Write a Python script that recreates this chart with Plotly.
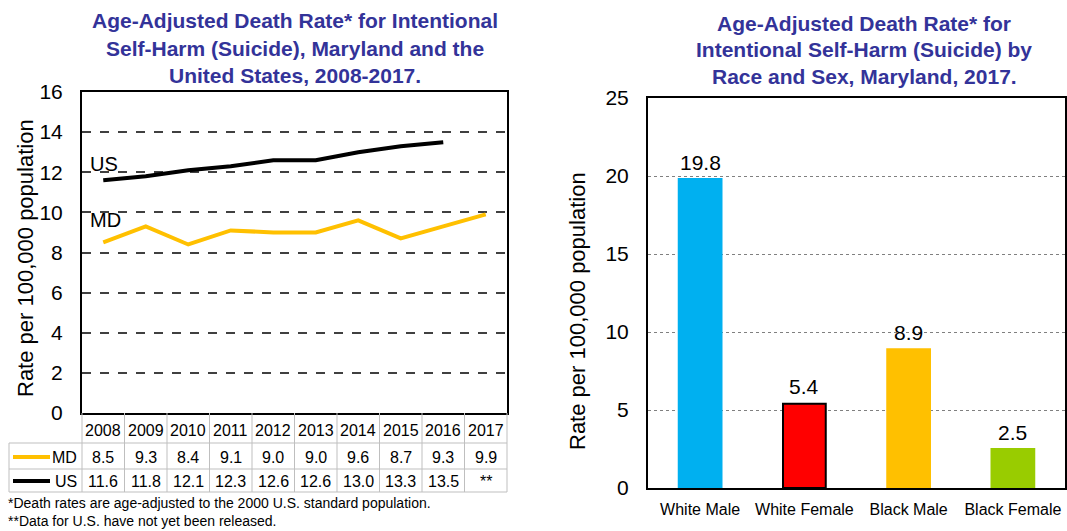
import plotly.graph_objects as go

W, H = 1067, 531

# ---------------- data ----------------
years = [2008, 2009, 2010, 2011, 2012, 2013, 2014, 2015, 2016, 2017]
md_rate = [8.5, 9.3, 8.4, 9.1, 9.0, 9.0, 9.6, 8.7, 9.3, 9.9]
us_rate = [11.6, 11.8, 12.1, 12.3, 12.6, 12.6, 13.0, 13.3, 13.5, None]
us_table_text = ["11.6", "11.8", "12.1", "12.3", "12.6", "12.6", "13.0", "13.3", "13.5", "**"]
md_table_text = ["8.5", "9.3", "8.4", "9.1", "9.0", "9.0", "9.6", "8.7", "9.3", "9.9"]

groups = ["White Male", "White Female", "Black Male", "Black Female"]
group_rate = [19.8, 5.4, 8.9, 2.5]
group_colors = ["#00B0F0", "#FF0000", "#FFC000", "#99CC00"]
group_outline = ["#00B0F0", "#000000", "#FFC000", "#99CC00"]

left_ticks = [0, 2, 4, 6, 8, 10, 12, 14, 16]
right_ticks = [0, 5, 10, 15, 20, 25]

FONT = "Arial, Liberation Sans, sans-serif"
TITLE_C = "#333399"


def px(x):
    return x / W


def py(y):
    return 1 - y / H


fig = go.Figure()

fig.add_trace(go.Scatter(x=years, y=us_rate, mode="lines", line=dict(color="#000000", width=4),
                         xaxis="x", yaxis="y", showlegend=False, hoverinfo="skip"))
fig.add_trace(go.Scatter(x=years, y=md_rate, mode="lines", line=dict(color="#FFC000", width=4),
                         xaxis="x", yaxis="y", showlegend=False, hoverinfo="skip"))

fig.add_trace(go.Bar(x=groups, y=group_rate, marker=dict(color=group_colors,
                     line=dict(color=group_outline, width=2)),
                     xaxis="x2", yaxis="y2", showlegend=False, hoverinfo="skip"))

L_X0, L_X1, L_Y0, L_Y1 = 82, 507, 413, 92
R_X0, R_X1, R_Y0, R_Y1 = 648, 1065, 488, 98

fig.update_layout(
    width=W, height=H, margin=dict(l=0, r=0, t=0, b=0, pad=0, autoexpand=False),
    paper_bgcolor="white", plot_bgcolor="white",
    font=dict(family=FONT, color="#000000"),
    showlegend=False,
    bargap=0.59,
    xaxis=dict(domain=[px(L_X0), px(L_X1)], range=[2007.5, 2017.5], showticklabels=False,
               showgrid=False, zeroline=False, showline=True, mirror=True,
               linecolor="#000000", linewidth=2, ticks="", automargin=False),
    yaxis=dict(domain=[py(L_Y0), py(L_Y1)], range=[0, 16], tickvals=left_ticks,
               showgrid=True, gridcolor="#404040", griddash="dash", gridwidth=1.5,
               zeroline=False, showline=True, mirror=True, linecolor="#000000", linewidth=2,
               tickfont=dict(size=21, family=FONT), ticks="", ticklabelstandoff=13,
               automargin=False),
    xaxis2=dict(domain=[px(R_X0), px(R_X1)], anchor="y2", showgrid=False, zeroline=False,
                showline=True, mirror=True, linecolor="#000000", linewidth=2,
                tickfont=dict(size=16, family=FONT), ticks="", ticklabelstandoff=6,
                automargin=False),
    yaxis2=dict(domain=[py(R_Y0), py(R_Y1)], anchor="x2", range=[0, 25], tickvals=right_ticks,
                showgrid=True, gridcolor="#808080", griddash="dot", gridwidth=1,
                zeroline=False, showline=True, mirror=True, linecolor="#000000", linewidth=2,
                tickfont=dict(size=21, family=FONT), ticks="", ticklabelstandoff=13,
                automargin=False),
)

ann = []
# titles
for txt, y in [("Age-Adjusted Death Rate* for Intentional", 21),
               ("Self-Harm (Suicide), Maryland and the", 48),
               ("United States, 2008-2017.", 75)]:
    ann.append(dict(text=f"<b>{txt}</b>", x=px(295), y=py(y), xref="paper", yref="paper",
                    xanchor="center", yanchor="middle", showarrow=False,
                    font=dict(size=21, color=TITLE_C, family=FONT)))
for txt, y in [("Age-Adjusted Death Rate* for", 23),
               ("Intentional Self-Harm (Suicide) by", 50),
               ("Race and Sex, Maryland, 2017.", 77)]:
    ann.append(dict(text=f"<b>{txt}</b>", x=px(864), y=py(y), xref="paper", yref="paper",
                    xanchor="center", yanchor="middle", showarrow=False,
                    font=dict(size=21, color=TITLE_C, family=FONT)))

# axis titles
ann.append(dict(text="Rate per 100,000 population", x=px(25), y=py(258), xref="paper", yref="paper",
                textangle=-90, showarrow=False, xanchor="center", yanchor="middle",
                font=dict(size=22, family=FONT)))
ann.append(dict(text="Rate per 100,000 population", x=px(577), y=py(311), xref="paper", yref="paper",
                textangle=-90, showarrow=False, xanchor="center", yanchor="middle",
                font=dict(size=22, family=FONT)))

# bar value labels
for g, v in zip(groups, group_rate):
    ann.append(dict(text=f"{v:.1f}", x=g, y=v, xref="x2", yref="y2", showarrow=False,
                    xanchor="center", yanchor="middle", yshift=17,
                    font=dict(size=21, family=FONT)))

# series labels inside plot
ann.append(dict(text="US", x=px(88), y=py(164), xref="paper", yref="paper", xanchor="left",
                yanchor="middle", showarrow=False, font=dict(size=20, family=FONT)))
ann.append(dict(text="MD", x=px(88), y=py(220), xref="paper", yref="paper", xanchor="left",
                yanchor="middle", showarrow=False, font=dict(size=20, family=FONT)))

# table
ROW_YEAR, ROW_MD, ROW_US = 430, 457, 481
for i, yr in enumerate(years):
    ann.append(dict(text=str(yr), x=yr, y=py(ROW_YEAR), xref="x", yref="paper", showarrow=False,
                    xanchor="center", yanchor="middle", font=dict(size=16, family=FONT)))
    ann.append(dict(text=md_table_text[i], x=yr, y=py(ROW_MD), xref="x", yref="paper", showarrow=False,
                    xanchor="center", yanchor="middle", font=dict(size=16, family=FONT)))
    ann.append(dict(text=us_table_text[i], x=yr, y=py(ROW_US), xref="x", yref="paper", showarrow=False,
                    xanchor="center", yanchor="middle", font=dict(size=16, family=FONT)))
ann.append(dict(text="MD", x=px(79), y=py(ROW_MD), xref="paper", yref="paper", showarrow=False,
                xanchor="right", yanchor="middle", font=dict(size=16, family=FONT)))
ann.append(dict(text="US", x=px(79), y=py(ROW_US), xref="paper", yref="paper", showarrow=False,
                xanchor="right", yanchor="middle", font=dict(size=16, family=FONT)))

# footnotes
ann.append(dict(text="*Death rates are age-adjusted to the 2000 U.S. standard population.", x=px(6),
                y=py(503), xref="paper", yref="paper", showarrow=False, xanchor="left",
                yanchor="middle", font=dict(size=14, family=FONT)))
ann.append(dict(text="**Data for U.S. have not yet been released.", x=px(6), y=py(521), xref="paper",
                yref="paper", showarrow=False, xanchor="left", yanchor="middle",
                font=dict(size=14, family=FONT)))

shapes = []
GRID = "#BFBFBF"
T_TOP, T_1, T_2, T_BOT = 413, 443, 469, 492
for yr in years[1:]:
    shapes.append(dict(type="line", xref="x", yref="paper", x0=yr - 0.5, x1=yr - 0.5,
                       y0=py(T_TOP), y1=py(T_BOT), line=dict(color=GRID, width=1)))
shapes.append(dict(type="line", xref="paper", yref="paper", x0=px(L_X0), x1=px(L_X0),
                   y0=py(T_TOP), y1=py(T_BOT), line=dict(color=GRID, width=1)))
shapes.append(dict(type="line", xref="paper", yref="paper", x0=px(L_X1), x1=px(L_X1),
                   y0=py(T_TOP), y1=py(T_BOT), line=dict(color=GRID, width=1)))
shapes.append(dict(type="line", xref="paper", yref="paper", x0=px(9), x1=px(9),
                   y0=py(T_1), y1=py(T_BOT), line=dict(color=GRID, width=1)))
for yy in [T_1, T_2, T_BOT]:
    shapes.append(dict(type="line", xref="paper", yref="paper", x0=px(9), x1=px(L_X1),
                       y0=py(yy), y1=py(yy), line=dict(color=GRID, width=1)))
# legend keys in table
shapes.append(dict(type="line", xref="paper", yref="paper", x0=px(13), x1=px(50),
                   y0=py(ROW_MD), y1=py(ROW_MD), line=dict(color="#FFC000", width=4)))
shapes.append(dict(type="line", xref="paper", yref="paper", x0=px(13), x1=px(50),
                   y0=py(ROW_US), y1=py(ROW_US), line=dict(color="#000000", width=4)))

fig.update_layout(annotations=ann, shapes=shapes)
fig.write_html("out.html")
